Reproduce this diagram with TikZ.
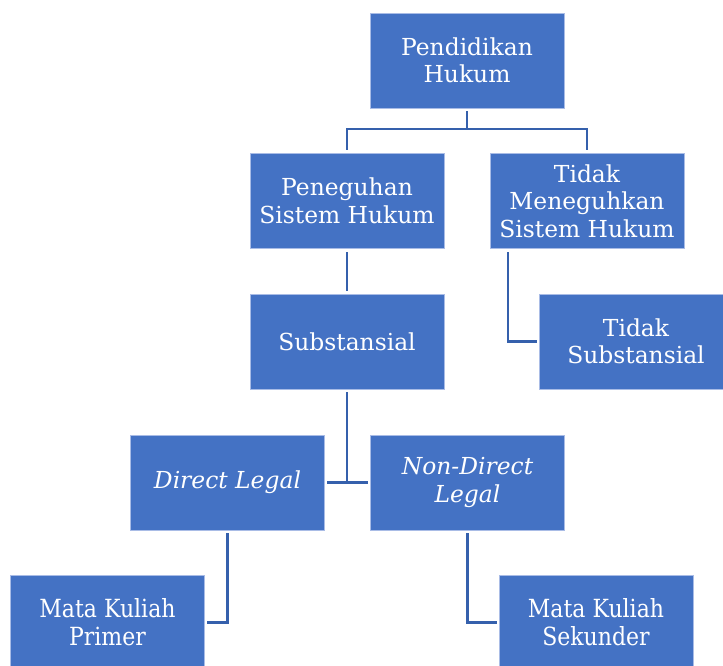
\documentclass[tikz,border=0pt]{standalone}
\usepackage{fontspec}
\setmainfont{DejaVu Serif}
\newfontfamily\narrowserif[FakeStretch=0.88]{DejaVu Serif}
\usepackage{tikz}
\definecolor{boxblue}{HTML}{4472C4}
\definecolor{boxedge}{HTML}{A9BCE6}
\definecolor{linkblue}{HTML}{3560AC}

\tikzset{
    chartbox/.style={rectangle, fill=boxblue, draw=boxedge, line width=0.6pt,
        minimum width=194pt, minimum height=95pt, inner sep=0pt,
        text=white, align=center, font=\fontsize{23.4}{27.5}\selectfont},
    link/.style={draw=linkblue, line width=2.3pt, line cap=rect}
}

\begin{document}
\begin{tikzpicture}[x=1pt, y=-1pt]
    \useasboundingbox (0,0) rectangle (723,666);

    \node[chartbox] (pend) at (467,60.5) {Pendidikan\\Hukum};
    \node[chartbox] (peneg) at (347,201) {Peneguhan\\Sistem Hukum};
    \node[chartbox] (tidakmen) at (587,201) {Tidak\\Meneguhkan\\Sistem Hukum};
    \node[chartbox] (subst) at (347,341.5) {Substansial};
    \node[chartbox] (tidaksub) at (636,341.5) {Tidak\\Substansial};
    \node[chartbox] (direct) at (227.5,482.5) {\itshape Direct Legal};
    \node[chartbox] (nondirect) at (467.5,482.5) {\itshape Non-Direct\\\itshape Legal};
    \node[chartbox, font=\narrowserif\fontsize{25}{28}\selectfont] (primer) at (107.5,622.5) {Mata Kuliah\\Primer};
    \node[chartbox, font=\narrowserif\fontsize{25}{28}\selectfont] (sekunder) at (596,622.5) {Mata Kuliah\\Sekunder};

    % first level
    \draw[link, shorten <=4pt] (pend.south) -- ++(0,21) coordinate (fork1);
    \draw[link, shorten >=4pt] (fork1) -| (peneg.north);
    \draw[link, shorten >=4pt] (fork1) -| (tidakmen.north);

    \draw[link, shorten <=4pt, shorten >=4pt] (peneg.south) -- (subst.north);
    \draw[link, shorten <=4pt, shorten >=3pt] ([xshift=18pt]tidakmen.south west) |- (tidaksub.west);

    % direct / non-direct
    \draw[link, shorten <=4pt] (subst.south) -- (subst.south |- direct.east);
    \draw[link, shorten <=3pt, shorten >=3pt] (direct.east) -- (nondirect.west);

    \draw[link, shorten <=4pt, shorten >=3pt] (direct.south) |- (primer.east);
    \draw[link, shorten <=4pt, shorten >=3pt] (nondirect.south) |- (sekunder.west);
\end{tikzpicture}
\end{document}
